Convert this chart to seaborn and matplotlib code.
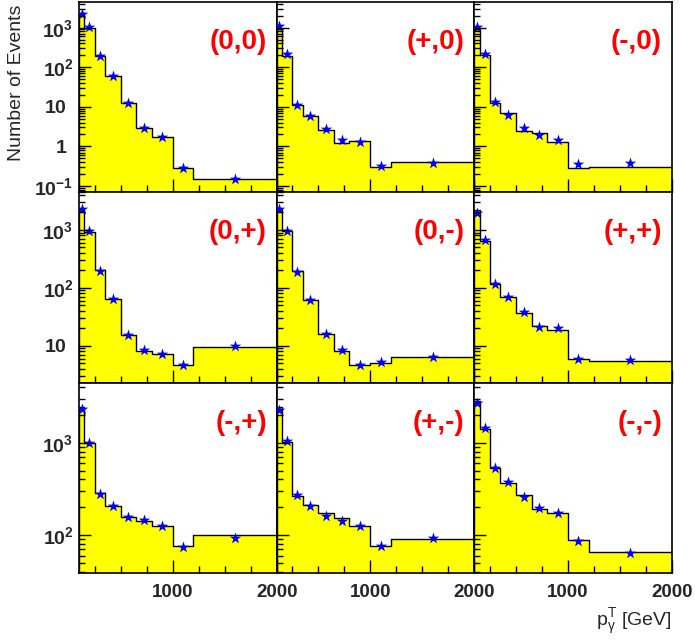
import numpy as np
import matplotlib
matplotlib.use('Agg')
import matplotlib.pyplot as plt
import matplotlib.ticker as mticker
import seaborn as sns

# binning in photon pT (GeV)
bin_edges = [100, 150, 250, 350, 500, 650, 800, 1000, 1200, 2000]
bin_centers = [125, 200, 300, 425, 575, 725, 900, 1100, 1600]

panel_labels = ['(0,0)', '(+,0)', '(-,0)',
                '(0,+)', '(0,-)', '(+,+)',
                '(-,+)', '(+,-)', '(-,-)']

# histogram heights (yellow) and star markers for each panel
hist_00 = [2400, 960, 195, 60, 12.8, 2.9, 1.7, 0.29, 0.15]
stars_00 = [2275, 1010, 192, 60, 12.4, 2.93, 1.74, 0.279, 0.148]
hist_p0 = [900, 192, 11.3, 5.7, 2.64, 1.23, 1.35, 0.30, 0.40]
stars_p0 = [1090, 216, 11.3, 5.7, 2.77, 1.49, 1.28, 0.318, 0.387]
hist_m0 = [900, 204, 12.4, 7.0, 2.41, 2.2, 1.31, 0.29, 0.31]
stars_m0 = [1047, 212, 13.2, 6.3, 2.93, 1.99, 1.41, 0.35, 0.37]

hist_0p = [2300, 935, 204, 64, 15.2, 8.0, 7.2, 4.6, 9.6]
stars_0p = [2275, 970, 198, 64, 15.2, 8.3, 7.2, 4.6, 9.8]
hist_0m = [2300, 950, 195, 62, 16, 8.2, 4.7, 5.0, 6.5]
stars_0m = [2275, 970, 191, 62, 16.1, 8.3, 4.7, 5.15, 6.5]
hist_pp = [2200, 650, 115, 69, 36.6, 21.6, 19, 5.8, 5.4]
stars_pp = [1940, 672, 117, 69, 37.5, 21, 20.2, 5.9, 5.6]

hist_mp = [2400, 1000, 288, 206, 158, 142, 125, 76, 100]
stars_mp = [2290, 1000, 276, 206, 158, 145, 127, 74, 93.5]
hist_pm = [2400, 1015, 264, 210, 175, 152, 127, 77, 92]
stars_pm = [2250, 1040, 270, 206, 163, 142, 125, 76, 94]
hist_mm = [2820, 1420, 536, 369, 270, 193, 172, 88, 66]
stars_mm = [2660, 1450, 527, 375, 260, 198, 172, 86, 64.6]

all_hists = [hist_00, hist_p0, hist_m0, hist_0p, hist_0m, hist_pp, hist_mp, hist_pm, hist_mm]
all_stars = [stars_00, stars_p0, stars_m0, stars_0p, stars_0m, stars_pp, stars_mp, stars_pm, stars_mm]

# y ranges and labelled decades per row
row_ylims = [(0.069, 4450), (2.3, 4450), (39, 4450)]
row_yticks = [[0.1, 1, 10, 100, 1000], [10, 100, 1000], [100, 1000]]
row_ylabels = [[r'$\mathbf{10^{-1}}$', r'$\mathbf{1}$  ', r'$\mathbf{10}$  ',
                r'$\mathbf{10^{2}}$', r'$\mathbf{10^{3}}$'],
               [r'$\mathbf{10}$  ', r'$\mathbf{10^{2}}$', r'$\mathbf{10^{3}}$'],
               [r'$\mathbf{10^{2}}$', r'$\mathbf{10^{3}}$']]
x_ticklabels = ['1000', '2000']
x_major = [1000, 2000]
x_minor = [250, 500, 750, 1250, 1500, 1750]

sns.set_style('ticks')
plt.rcParams['font.family'] = ['Liberation Sans', 'DejaVu Sans']
plt.rcParams['mathtext.fontset'] = 'custom'
plt.rcParams['mathtext.rm'] = 'Liberation Sans'
plt.rcParams['mathtext.it'] = 'Liberation Sans:italic'
plt.rcParams['mathtext.bf'] = 'Liberation Sans:bold'
plt.rcParams['axes.axisbelow'] = False

W, H = 695, 643
fig, axes = plt.subplots(3, 3, figsize=(W / 100, H / 100), dpi=100)
fig.subplots_adjust(left=79 / W, right=672 / W, top=1 - 2 / H, bottom=1 - 573 / H,
                    wspace=0, hspace=0)

for i, ax in enumerate(axes.flat):
    row, col = divmod(i, 3)
    sns.histplot(x=bin_centers, weights=all_hists[i], bins=bin_edges, element='step',
                 fill=True, color='#ffff00', alpha=1, edgecolor='black', linewidth=1.0,
                 ax=ax)
    sns.scatterplot(x=bin_centers, y=all_stars[i], marker='*', s=75, color='#0000ff',
                    linewidth=0, ax=ax, zorder=3)
    ax.set_yscale('log')
    ax.set_xlim(100, 2000)
    ax.set_ylim(*row_ylims[row])
    ax.set_xlabel('')
    ax.set_ylabel('')

    ax.xaxis.set_major_locator(mticker.FixedLocator(x_major))
    ax.xaxis.set_major_formatter(mticker.FixedFormatter(x_ticklabels))
    ax.xaxis.set_minor_locator(mticker.NullLocator())
    ax.yaxis.set_major_locator(mticker.FixedLocator(row_yticks[row]))
    ax.yaxis.set_major_formatter(mticker.FixedFormatter(row_ylabels[row]))
    ax.yaxis.set_minor_locator(mticker.NullLocator())
    ax.tick_params(axis='both', which='major', direction='in', length=0, color='black')
    ax.tick_params(axis='x', pad=8, labelsize=13.5, labelbottom=(row == 2))
    ax.tick_params(axis='y', pad=4, labelsize=14, labelleft=(col == 0))
    for lab in ax.get_xticklabels():
        lab.set_fontweight('bold')

    for spine in ax.spines.values():
        spine.set_linewidth(1.2)
        spine.set_color('black')

    ax.text(0.95, 0.79, panel_labels[i], transform=ax.transAxes, ha='right', va='center',
            color='#ff0000', fontsize=20, fontweight='bold')

    # transparent overlay axes carrying the inward tick marks on top of the fill
    ov = fig.add_axes(ax.get_position(), facecolor='none')
    ov.set_yscale('log')
    ov.set_xlim(100, 2000)
    ov.set_ylim(*row_ylims[row])
    ov.xaxis.set_major_locator(mticker.FixedLocator(x_major))
    ov.xaxis.set_minor_locator(mticker.FixedLocator(x_minor))
    ov.yaxis.set_major_locator(mticker.FixedLocator(row_yticks[row]))
    ov.yaxis.set_minor_locator(mticker.LogLocator(base=10, subs=np.arange(2, 10), numticks=20))
    ov.tick_params(axis='both', which='both', direction='in', width=1.0, color='black',
                   labelbottom=False, labelleft=False, top=False, right=False)
    ov.tick_params(axis='x', which='major', length=9.5)
    ov.tick_params(axis='x', which='minor', length=5)
    ov.tick_params(axis='y', which='major', length=8.5)
    ov.tick_params(axis='y', which='minor', length=4.5)
    for spine in ov.spines.values():
        spine.set_visible(False)

fig.text(17 / W, 1 - 5 / H, 'Number of Events', rotation=90, ha='center', va='top',
         fontsize=14)
fig.text(672 / W, 1 - 626 / H, r'$\mathregular{p_{\gamma}^{T}}$ [GeV]', ha='right',
         va='baseline', fontsize=14)

fig.savefig('out.png', dpi=100)
